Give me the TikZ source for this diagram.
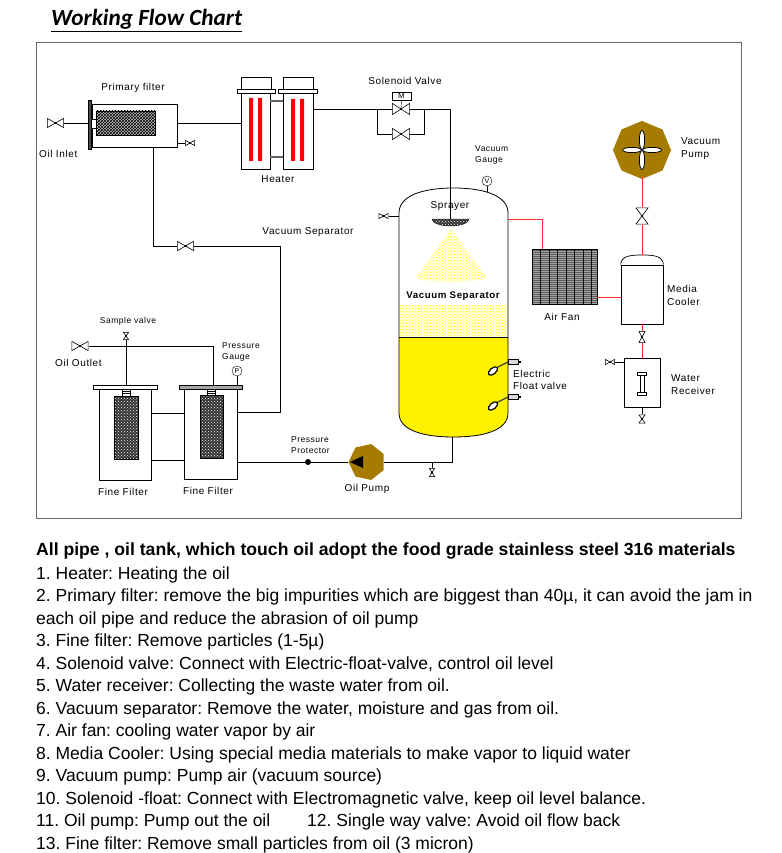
\documentclass[tikz,border=0pt]{standalone}
\usepackage{fontspec}
\setmainfont{Liberation Sans}
\newfontfamily\titlefont{Carlito}
\newfontfamily\lblfont[LetterSpace=6]{Liberation Sans}
\usetikzlibrary{shapes.geometric,patterns}
\definecolor{pumpbrown}{RGB}{166,124,0}
\newcommand{\ppbb}{path picture bounding box}
\frenchspacing
\tikzset{
  pipe/.style={line width=0.7pt},
  redpipe/.style={line width=0.7pt, draw=red!85!white},
  box/.style={draw, line width=0.7pt, inner sep=0, fill=white},
  lbl/.style={font=\lblfont\fontsize{10}{13}\selectfont, inner sep=0, align=left},
  slbl/.style={font=\lblfont\fontsize{8.5}{11}\selectfont, inner sep=0, align=left},
  txt/.style={anchor=base west, inner sep=0, font=\fontsize{17.5}{20}\selectfont},
  mesh/.style={preaction={fill=black!80}, pattern=crosshatch dots, pattern color=white},
  gauge/.style={draw, circle, fill=white, minimum size=10, inner sep=0, font=\fontsize{7}{7}\selectfont},
  hvalve/.style={minimum width=17, minimum height=10, inner sep=0, path picture={
    \draw[line width=0.6pt, fill=white]
      ([shift={(.4pt,-.4pt)}]\ppbb.north west) -- ([shift={(.4pt,.4pt)}]\ppbb.south west)
      -- ([shift={(-.4pt,-.4pt)}]\ppbb.north east) -- ([shift={(-.4pt,.4pt)}]\ppbb.south east) -- cycle;
    \fill (\ppbb.center) circle (1.2pt);}},
  vvalve/.style={minimum width=10, minimum height=17, inner sep=0, path picture={
    \draw[line width=0.6pt, fill=white]
      ([shift={(.4pt,-.4pt)}]\ppbb.north west) -- ([shift={(-.4pt,-.4pt)}]\ppbb.north east)
      -- ([shift={(.4pt,.4pt)}]\ppbb.south west) -- ([shift={(-.4pt,.4pt)}]\ppbb.south east) -- cycle;
    \fill (\ppbb.center) circle (1.2pt);}}
}
\begin{document}
\begin{tikzpicture}[x=1pt,y=-1pt]
\useasboundingbox (0,0) rectangle (781,853);
\node[anchor=base west, inner sep=0, font=\titlefont\bfseries\itshape\fontsize{23.2}{26}\selectfont] (title) at (51,26) {\underline{Working Flow Chart}};
\draw[black!60, line width=1pt] (36,43) rectangle (741,518);

% primary filter
\node[hvalve] (vin) at (55.5,123) {};
\node[box, minimum width=85, minimum height=43] (pf) at (134.5,125.5) {};
\draw[pipe] (vin.east) -- (vin.east -| pf.west);
\draw[fill=black!70] (88,100) rectangle (91.5,149);
\draw[fill=white] (91.5,119) rectangle (96,128);
\draw[preaction={fill=black!25}, pattern=crosshatch] (96,111) rectangle (155,135);
\node[hvalve, minimum width=10, minimum height=6] (pfv) at (190,143) {};
\draw[pipe] (pfv.west -| pf.east) -- (pfv.west);

% heater
\node[box, minimum width=29, minimum height=76] (h1) at (255.5,131) {};
\node[box, minimum width=30, minimum height=76] (h2) at (298,131) {};
\draw[fill=white] (237,89) rectangle (275,93);
\draw[fill=white] (241,77) rectangle (271,89);
\draw[fill=white] (278,89) rectangle (317,93);
\draw[fill=white] (283,77) rectangle (313,89);
\fill[red] (249,98) rectangle (253,161) (258,98) rectangle (262,161);
\fill[red] (291,99) rectangle (295,161) (300,99) rectangle (304,161);
\draw[line width=2.5pt, black!60] ([yshift=30pt]h1.east) -- ([yshift=30pt]h2.west);
\draw[line width=2.5pt, black!60] ([yshift=-26pt]h1.east) -- ([yshift=-26pt]h2.west);
\draw[pipe] (vin.east -| pf.east) -- (vin.east -| h1.west);

% solenoid valves
\node[hvalve, minimum width=18, minimum height=12] (sv1) at (401,109) {};
\node[hvalve, minimum width=18, minimum height=12] (sv2) at (401,134) {};
\node[draw, fill=white, minimum width=19, minimum height=8, inner sep=0, font=\fontsize{8}{8}\selectfont] (mbox) at (401.5,96) {M};
\draw (mbox.south) -- (sv1.center);
\coordinate (sva) at (377,109);
\coordinate (svb) at (424,109);
\coordinate (spr) at (450.5,219);
\draw[pipe] (sv1.west -| h2.east) -- (sv1.west);
\draw[pipe] (sva) |- (sv2.west);
\draw[pipe] (sv1.east) -- (svb);
\draw[pipe] (sv2.east) -| (svb);
\draw[pipe] (svb) -| (spr);

% vacuum separator
\fill[yellow] (399,337) -- (508,337) -- (508,413) .. controls (508,431) and (482,437) .. (453.5,437) .. controls (425,437) and (399,431) .. (399,413) -- cycle;
\fill[preaction={fill=yellow!15}, pattern=crosshatch dots, pattern color=yellow] (400,305) rectangle (507,336);
\fill[preaction={fill=yellow!12}, pattern=crosshatch dots, pattern color=yellow] (451,229) -- (487,278) .. controls (470,283) and (433,283) .. (416,278) -- cycle;
\draw[line width=0.8pt] (399,413) -- (399,213) .. controls (399,196) and (422,188) .. (453.5,188) .. controls (485,188) and (508,196) .. (508,213) -- (508,413) .. controls (508,431) and (482,437) .. (453.5,437) .. controls (425,437) and (399,431) .. (399,413) -- cycle;
\draw (399,337) -- (508,337);
\draw[mesh] (432,219) -- (469,219) arc[start angle=0, end angle=180, x radius=18.5, y radius=7] -- cycle;
\node[gauge] (vg) at (487,181) {V};
\draw[pipe] (vg.south) -- (487,191.5);
\node[hvalve, minimum width=10, minimum height=6] (vts) at (383.5,216) {};
\coordinate (tankl) at (399,216);
\draw[pipe] (vts.east) -- (tankl);
\foreach \y in {362,397} {
  \draw[line width=1.2pt, black!75] (508,\y) -- (498,\y+5);
  \draw[fill=black!15, line width=0.5pt] (508,\y-2.5) rectangle (518,\y+2.5);
  \fill (518,\y-1) rectangle (520.5,\y+1);
  \draw[line width=1.2pt, fill=white, rotate around={40:(493,\y+9)}] (493,\y+9) ellipse [x radius=5.5, y radius=3];
}

% air fan and media cooler
\node[draw, fill=black!65, minimum width=65, minimum height=55, inner sep=0] (fan) at (564.5,276.5) {};
\foreach \y in {251,253,...,303} \draw[black!35, line width=0.3pt] (532,\y) -- (597,\y);
\foreach \x in {532,540.5,...,597} \draw[line width=0.8pt] (\x,249) -- (\x,304);
\draw[line width=0.8pt] (597,249) -- (597,304);
\coordinate (tankr) at (508,219);
\coordinate (fanin) at (542,249);
\draw[redpipe] (tankr) -| (fanin);
\node[box, minimum width=42, minimum height=59] (mc) at (642,294.5) {};
\draw[line width=0.7pt, fill=white] (mc.north west) .. controls (621,256) and (630,255) .. (642,255) .. controls (654,255) and (663,256) .. (mc.north east);
\coordinate (mctop) at (642,255);
\coordinate (fanout) at (597,297);
\draw[redpipe] (fanout) -- (fanout -| mc.west);

% vacuum pump
\node[regular polygon, regular polygon sides=8, shape border rotate=22.5, fill=pumpbrown, minimum size=58, inner sep=0] (vp) at (642,150) {};
\draw[fill=white, line width=0.8pt] (vp) ++(-10,0) ellipse [x radius=9.5, y radius=2.6];
\draw[fill=white, line width=0.8pt] (vp) ++(10,0) ellipse [x radius=9.5, y radius=2.6];
\draw[fill=white, line width=0.8pt] (vp) ++(0,-10) ellipse [x radius=2.6, y radius=9.5];
\draw[fill=white, line width=0.8pt] (vp) ++(0,10) ellipse [x radius=2.6, y radius=9.5];
\node[vvalve, minimum width=13, minimum height=17] (vv) at (642,216) {};
\draw[redpipe] (mctop) -- (vv.south);
\draw[redpipe] (vv.north) -- (vp.south);

% water receiver
\node[box, minimum width=36, minimum height=49] (wr) at (642,382.5) {};
\draw[fill=white] (640,374) rectangle (644,393);
\draw[fill=white] (637.5,372) rectangle (646.5,375);
\draw[fill=white] (637.5,392) rectangle (646.5,395);
\node[vvalve, minimum width=7, minimum height=12] (cv) at (642,337) {};
\draw[redpipe] (mc.south) -- (cv.north);
\draw[redpipe] (cv.south) -- (wr.north);
\node[hvalve, minimum width=10, minimum height=6] (wrv) at (610,362) {};
\draw[pipe] (wrv.east) -- (wrv.east -| wr.west);
\node[vvalve, minimum width=7, minimum height=9] (wrb) at (642,419) {};
\draw[pipe] (wr.south) -- (wrb.north);

% fine filters
\node[box, minimum width=52, minimum height=92] (ff1) at (125,434) {};
\node[box, minimum width=53, minimum height=91] (ff2) at (210.5,433.5) {};
\draw[fill=white] (93,385) rectangle (157,389);
\draw[fill=black!35] (179,385) rectangle (242,389);
\draw[fill=white] (122,389) rectangle (130,396);
\draw[fill=white] (207,389) rectangle (215,395);
\foreach \y in {391,393} \draw (122,\y) -- (130,\y) (207,\y) -- (215,\y);
\draw[mesh] (114,396) rectangle (138,459);
\draw[mesh] (200,395) rectangle (223,458);
\coordinate (fa) at (151,413);
\coordinate (fb) at (151,460);
\draw[pipe] (fa) -- (fa -| ff2.west);
\draw[pipe] (fb) -- (fb -| ff2.west);
\node[hvalve] (vout) at (80,346) {};
\coordinate (ff2top) at (213,385);
\draw[pipe] (vout.east) -| (ff2top);
\node[vvalve, minimum width=6, minimum height=8] (vsam) at (126,336) {};
\coordinate (ff1top) at (126,385);
\draw[pipe] (ff1top) -- (vsam.south);
\node[gauge] (pg) at (237,371) {P};
\draw[pipe] (pg.south) -- (pg.south |- ff2top);

% return pipe to the filters
\node[hvalve] (vsv) at (185.5,246) {};
\coordinate (pfb) at (153,147);
\coordinate (ff2in) at (237,412);
\draw[pipe] (pfb) |- (vsv.west);
\draw[pipe] (vsv.east) -- ++(86.5,0) |- (ff2in);

% oil pump
\node[regular polygon, regular polygon sides=7, shape border rotate=90, fill=pumpbrown, minimum size=37, inner sep=0] (op) at (367,462) {};
\fill (350,462) -- (363,456) -- (363,468) -- cycle;
\node[circle, fill, minimum size=6, inner sep=0] (pp) at (308,462) {};
\coordinate (ff2out) at (237,462);
\coordinate (tankbot) at (452,437);
\draw[pipe] (ff2out) -- (pp) -- (op.west);
\draw[pipe] (op.east) -| (tankbot);
\node[vvalve, minimum width=6, minimum height=9] (vdr) at (432,472.5) {};
\draw[pipe] (vdr.north) -- (vdr.north |- op.east);

% labels
\node[lbl] at (133,88) {Primary filter};
\node[lbl, anchor=west] at (39,154) {Oil Inlet};
\node[lbl] at (278,179) {Heater};
\node[lbl] at (405,81) {Solenoid Valve};
\node[slbl, anchor=west] at (475,155) {Vacuum\\Gauge};
\node[lbl] at (450,206) {Sprayer};
\node[lbl] at (308,232) {Vacuum Separator};
\node[lbl, font=\lblfont\bfseries\fontsize{9.7}{12}\selectfont] at (453,296) {Vacuum Separator};
\node[lbl] at (562,317) {Air Fan};
\node[lbl, anchor=west] at (667,295.5) {Media\\Cooler};
\node[lbl, anchor=west] at (681,148.5) {Vacuum\\Pump};
\node[lbl, anchor=west] at (671,384.5) {Water\\Receiver};
\node[lbl, anchor=west, font=\lblfont\fontsize{10}{12}\selectfont] at (513,380) {Electric\\Float valve};
\node[slbl] at (128,321) {Sample valve};
\node[lbl, anchor=west] at (55,363) {Oil Outlet};
\node[slbl, anchor=west] at (222,351.5) {Pressure\\Gauge};
\node[lbl] at (123,492) {Fine Filter};
\node[lbl] at (208,491) {Fine Filter};
\node[slbl, anchor=west] at (291,445.5) {Pressure\\Protector};
\node[lbl] at (367,489) {Oil Pump};

% notes
\node[txt, font=\bfseries\fontsize{17.6}{20}\selectfont] (head) at (36,555) {All pipe , oil tank, which touch oil adopt the food grade stainless steel 316 materials};
\node[txt] (n1) at (36,579) {1. Heater: Heating the oil};
\node[txt] (n2) at (36,601.5) {2. Primary filter: remove the big impurities which are biggest than 40µ, it can avoid the jam in};
\node[txt] (n2b) at (36,624) {each oil pipe and reduce the abrasion of oil pump};
\node[txt] (n3) at (36,646.5) {3. Fine filter: Remove particles (1-5µ)};
\node[txt] (n4) at (36,669) {4. Solenoid valve: Connect with Electric-float-valve, control oil level};
\node[txt] (n5) at (36,691.5) {5. Water receiver: Collecting the waste water from oil.};
\node[txt] (n6) at (36,714) {6. Vacuum separator: Remove the water, moisture and gas from oil.};
\node[txt] (n7) at (36,736.5) {7. Air fan: cooling water vapor by air};
\node[txt] (n8) at (36,759) {8. Media Cooler: Using special media materials to make vapor to liquid water};
\node[txt] (n9) at (36,781.5) {9. Vacuum pump: Pump air (vacuum source)};
\node[txt] (n10) at (36,804) {10. Solenoid -float: Connect with Electromagnetic valve, keep oil level balance.};
\node[txt] (n11) at (36,826.5) {11. Oil pump: Pump out the oil};
\node[txt] (n12) at (307,826.5) {12. Single way valve: Avoid oil flow back};
\node[txt] (n13) at (36,849) {13. Fine filter: Remove small particles from oil (3 micron)};
\end{tikzpicture}
\end{document}
